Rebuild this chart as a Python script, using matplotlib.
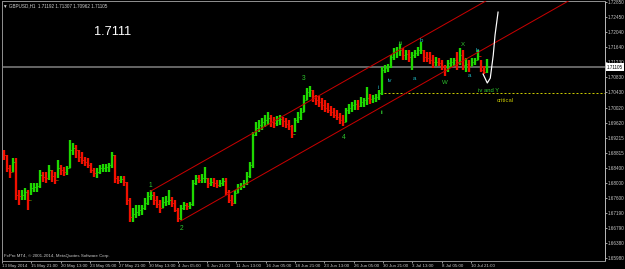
import matplotlib
matplotlib.use("Agg")
import matplotlib.pyplot as plt
import numpy as np

# ---------------- data (GBPUSD H1, compressed bars) ----------------
first_open = 1.6880
high = [1.6888,1.6875,1.6848,1.6867,1.6867,1.6781,1.6781,1.6787,1.6781,1.6800,
        1.6800,1.6800,1.6835,1.6829,1.6829,1.6848,1.6835,1.6829,1.6862,1.6848,
        1.6843,1.6846,1.6915,1.6907,1.6902,1.6888,1.6883,1.6870,1.6867,1.6854,
        1.6840,1.6840,1.6848,1.6851,1.6851,1.6854,1.6883,1.6875,1.6819,1.6819,
        1.6819,1.6803,1.6760,1.6733,1.6741,1.6741,1.6741,1.6760,1.6776,1.6781,
        1.6776,1.6765,1.6754,1.6762,1.6765,1.6781,1.6762,1.6754,1.6733,1.6741,
        1.6749,1.6746,1.6749,1.6808,1.6821,1.6821,1.6824,1.6843,1.6813,1.6813,
        1.6813,1.6808,1.6808,1.6813,1.6813,1.6781,1.6768,1.6781,1.6797,1.6800,
        1.6808,1.6829,1.6856,1.6937,1.6963,1.6969,1.6974,1.6982,1.6990,1.6982,
        1.6977,1.6979,1.6982,1.6977,1.6974,1.6969,1.6955,1.6974,1.6990,1.7001,
        1.7036,1.7055,1.7060,1.7049,1.7036,1.7033,1.7028,1.7022,1.7014,1.7006,
        1.7001,1.6996,1.6988,1.6982,1.7001,1.7012,1.7017,1.7022,1.7022,1.7030,
        1.7028,1.7057,1.7038,1.7036,1.7038,1.7049,1.7111,1.7116,1.7119,1.7143,
        1.7162,1.7164,1.7173,1.7162,1.7156,1.7156,1.7151,1.7156,1.7164,1.7178,
        1.7156,1.7151,1.7151,1.7143,1.7138,1.7135,1.7130,1.7116,1.7130,1.7135,
        1.7135,1.7151,1.7162,1.7156,1.7135,1.7130,1.7135,1.7135,1.7156,1.7130,
        1.7114,1.7131]
low = [1.6862,1.6829,1.6813,1.6829,1.6754,1.6741,1.6754,1.6754,1.6728,1.6768,
       1.6776,1.6776,1.6787,1.6803,1.6800,1.6808,1.6803,1.6797,1.6813,1.6821,
       1.6819,1.6821,1.6840,1.6875,1.6867,1.6856,1.6851,1.6846,1.6840,1.6827,
       1.6816,1.6813,1.6824,1.6829,1.6829,1.6829,1.6840,1.6800,1.6797,1.6800,
       1.6792,1.6741,1.6695,1.6695,1.6706,1.6712,1.6714,1.6728,1.6741,1.6754,
       1.6741,1.6733,1.6720,1.6733,1.6738,1.6741,1.6736,1.6722,1.6695,1.6701,
       1.6728,1.6728,1.6730,1.6738,1.6795,1.6800,1.6800,1.6800,1.6787,1.6792,
       1.6789,1.6787,1.6789,1.6792,1.6768,1.6746,1.6738,1.6744,1.6773,1.6781,
       1.6787,1.6795,1.6813,1.6840,1.6926,1.6937,1.6942,1.6950,1.6955,1.6950,
       1.6947,1.6953,1.6955,1.6950,1.6947,1.6942,1.6921,1.6937,1.6961,1.6969,
       1.6990,1.7022,1.7030,1.7017,1.7009,1.7004,1.6996,1.6990,1.6988,1.6980,
       1.6974,1.6969,1.6958,1.6953,1.6963,1.6985,1.6990,1.6996,1.6996,1.7004,
       1.7004,1.7009,1.7012,1.7014,1.7017,1.7022,1.7036,1.7095,1.7097,1.7108,
       1.7130,1.7135,1.7140,1.7130,1.7130,1.7124,1.7103,1.7135,1.7140,1.7146,
       1.7124,1.7124,1.7119,1.7108,1.7114,1.7114,1.7103,1.7087,1.7097,1.7111,
       1.7114,1.7103,1.7116,1.7103,1.7097,1.7097,1.7114,1.7116,1.7130,1.7097,
       1.7092,1.7096]
close = [1.6875,1.6840,1.6829,1.6856,1.6768,1.6765,1.6768,1.6776,1.6754,1.6787,
         1.6789,1.6792,1.6821,1.6816,1.6813,1.6835,1.6819,1.6808,1.6840,1.6835,
         1.6829,1.6840,1.6888,1.6894,1.6888,1.6870,1.6862,1.6856,1.6848,1.6835,
         1.6827,1.6829,1.6840,1.6840,1.6843,1.6848,1.6875,1.6813,1.6808,1.6811,
         1.6803,1.6754,1.6709,1.6717,1.6722,1.6728,1.6733,1.6746,1.6765,1.6768,
         1.6754,1.6744,1.6733,1.6749,1.6752,1.6754,1.6746,1.6728,1.6706,1.6733,
         1.6741,1.6738,1.6744,1.6800,1.6813,1.6808,1.6813,1.6813,1.6800,1.6803,
         1.6800,1.6795,1.6800,1.6805,1.6776,1.6754,1.6746,1.6773,1.6789,1.6792,
         1.6800,1.6819,1.6848,1.6929,1.6947,1.6955,1.6963,1.6969,1.6974,1.6963,
         1.6961,1.6969,1.6972,1.6966,1.6958,1.6953,1.6931,1.6969,1.6977,1.6990,
         1.7022,1.7044,1.7049,1.7033,1.7022,1.7017,1.7009,1.7001,1.6996,1.6990,
         1.6982,1.6977,1.6969,1.6963,1.6996,1.7001,1.7009,1.7012,1.7006,1.7017,
         1.7022,1.7028,1.7025,1.7028,1.7030,1.7041,1.7103,1.7108,1.7111,1.7138,
         1.7151,1.7156,1.7156,1.7143,1.7146,1.7138,1.7143,1.7148,1.7156,1.7156,
         1.7138,1.7135,1.7130,1.7124,1.7124,1.7122,1.7114,1.7103,1.7122,1.7124,
         1.7130,1.7124,1.7143,1.7116,1.7119,1.7114,1.7124,1.7130,1.7140,1.7103,
         1.7097,1.71105]

current_price = 1.71105
critical_level = 1.7041
# equidistant channel: base line (two anchors) + parallel anchor
chan_base_x = [58.8, 171.2]
chan_base_p = [1.6698, 1.7210]
chan_par_x = 48.8
chan_par_p = 1.6778
# hand-drawn projection (white)
proj_x = [159.8, 161.2, 162.2, 163.2, 163.8, 164.8]
proj_p = [1.7092, 1.7068, 1.7081, 1.7143, 1.7197, 1.7258]

ytick_vals = [1.72850, 1.72450, 1.72040, 1.71640, 1.71230, 1.70830, 1.70430,
              1.70020, 1.69620, 1.69215, 1.68815, 1.68400, 1.68000, 1.67600,
              1.67190, 1.66790, 1.66380, 1.65980]
xtick_labels = ["13 May 2014", "15 May 21:00", "20 May 13:00", "23 May 05:00",
                "27 May 21:00", "30 May 13:00", "4 Jun 05:00", "6 Jun 21:00",
                "11 Jun 13:00", "16 Jun 05:00", "18 Jun 21:00", "23 Jun 13:00",
                "26 Jun 05:00", "30 Jun 21:00", "3 Jul 13:00", "8 Jul 05:00",
                "10 Jul 21:00"]

# wave labels: (text, bar position, price, colour key)
wave_labels = [
    ("1", 48.8, 1.6792, "g"), ("2", 59.2, 1.6679, "g"), ("3", 99.8, 1.7081, "g"),
    ("4", 113.2, 1.6923, "g"), ("iii", 132.2, 1.7175, "g"), ("W", 147.2, 1.7068, "g"),
    ("X", 153.2, 1.7172, "g"), ("ii", 126.2, 1.6988, "g"),
    ("i", 124.8, 1.7057, "c"), ("iv", 128.8, 1.7076, "c"), ("a", 136.8, 1.7081, "c"),
    ("b", 139.2, 1.7183, "c"), ("a", 155.2, 1.7087, "c"), ("b", 157.8, 1.7156, "c"),
]

# ---------------- drawing ----------------
W, H = 625, 269
fig = plt.figure(figsize=(W / 100, H / 100), dpi=100, facecolor="black")
ax = fig.add_axes([2 / W, 1 - 260.5 / H, 603 / W, 260 / H], facecolor="black")

FONT = ["Liberation Sans", "DejaVu Sans"]
px = 0.72  # points per pixel

n = len(close)
idx = np.arange(n)
opens = np.array([first_open] + close[:-1])
closes = np.array(close)
up = closes >= opens
col_up, col_dn = "#1ed800", "#f01000"
colors = np.where(up, col_up, col_dn)
ax.vlines(idx, low, high, colors=colors, lw=2.3 * px, zorder=3)
ax.hlines(opens, idx - 0.5, idx, colors=colors, lw=0.8 * px, zorder=3)
ax.hlines(closes, idx, idx + 0.5, colors=colors, lw=0.8 * px, zorder=3)

# current price line
ax.axhline(current_price, color="#6e6e6e", lw=1.8 * px, zorder=2)

# critical dotted line
ax.hlines(critical_level, 125.5, 201, colors="#c8c800", lw=1.0 * px,
          linestyles=(0, (2, 2)), zorder=2)

# channel
slope = (chan_base_p[1] - chan_base_p[0]) / (chan_base_x[1] - chan_base_x[0])
xe = 201
ax.plot([chan_base_x[0], xe], [chan_base_p[0], chan_base_p[0] + slope * (xe - chan_base_x[0])],
        color="#c80000", lw=1.0 * px, zorder=4)
ax.plot([chan_par_x, xe], [chan_par_p, chan_par_p + slope * (xe - chan_par_x)],
        color="#c80000", lw=1.0 * px, zorder=4)

# projection
ax.plot(proj_x, proj_p, color="white", lw=1.2 * px, zorder=5)

# wave labels
for t, x, p, c in wave_labels:
    color = "#2ec62e" if c == "g" else "#20b8c0"
    fs = 4.8 if t.isdigit() else 4.4
    ax.text(x, p, t, color=color, fontsize=fs, ha="center", va="center",
            family=FONT, zorder=6)
ax.text(161.5, 1.7047, "iv and Y", color="#2ec62e", fontsize=4.2, ha="center",
        va="center", family=FONT, zorder=6)
ax.text(167.2, 1.7020, "critical", color="#c8c800", fontsize=4.2, ha="center",
        va="center", family=FONT, zorder=6)

# big price label
ax.text(36.2, 1.7205, "1.7111", color="white", fontsize=9.2, ha="center",
        va="center", family=FONT, zorder=6)

# limits
ax.set_xlim(-0.5, 200.5)
ax.set_ylim(1.65923, 1.72891)

# spines
for s in ["left", "bottom", "top"]:
    ax.spines[s].set_color("#8c8c8c")
    ax.spines[s].set_linewidth(1.0 * px)
ax.spines["right"].set_color("#b4b4b4")
ax.spines["right"].set_linewidth(1.0 * px)

# y axis at right
ax.yaxis.tick_right()
ax.set_yticks(ytick_vals)
ax.set_yticklabels([f"{v:.5f}" for v in ytick_vals])
ax.tick_params(axis="y", colors="#c8c8c8", length=2.0 * px, width=0.8 * px,
               pad=0.6, labelsize=3.3)
for lab in ax.get_yticklabels():
    lab.set_family(FONT)

# x axis
xt = np.arange(len(xtick_labels)) * 9.783 - 0.8
ax.set_xticks(xt)
ax.set_xticklabels(xtick_labels)
ax.tick_params(axis="x", colors="#c8c8c8", length=2.5 * px, width=0.8 * px,
               pad=0.8, labelsize=3.2)
for lab in ax.get_xticklabels():
    lab.set_family(FONT)
    lab.set_horizontalalignment("left")

# current price tag on axis
ax.annotate(f"{current_price:.5f}", xy=(1.0, current_price), xycoords=("axes fraction", "data"),
            xytext=(1.5, 0), textcoords="offset points", ha="left", va="center",
            fontsize=3.3, color="black", family=FONT, annotation_clip=False,
            bbox=dict(boxstyle="square,pad=0.25", fc="white", ec="white", lw=0))

# header and footer
fig.text(3 / W, 1 - 5.5 / H, "\u25bc GBPUSD,H1  1.71192 1.71307 1.70962 1.71105",
         color="#d0d0d0", fontsize=3.3, ha="left", va="center", family=FONT)
fig.text(4 / W, 1 - 256.5 / H, "FxPro MT4, \u00a9 2001-2014, MetaQuotes Software Corp.",
         color="#c8c8c8", fontsize=3.2, ha="left", va="center", family=FONT)

fig.savefig("out.png", dpi=100, facecolor="black")
